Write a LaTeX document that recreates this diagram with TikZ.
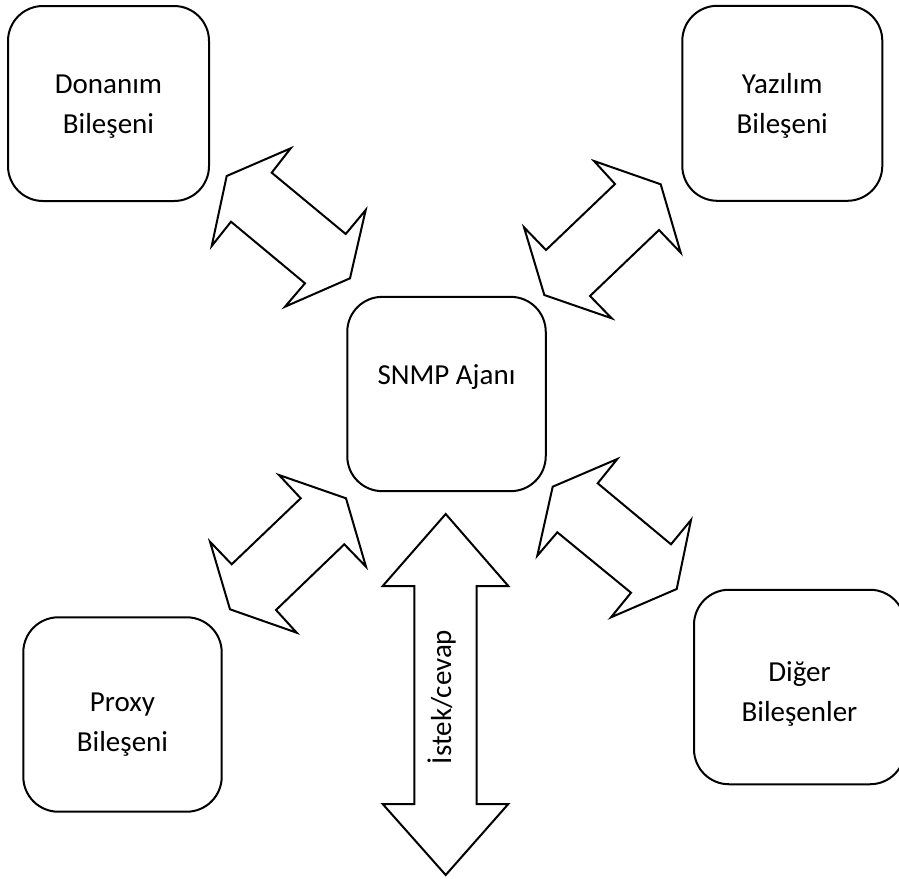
\documentclass[tikz,border=0pt]{standalone}
\usepackage{fontspec}
\setmainfont{Carlito}
\begin{document}
\begin{tikzpicture}[x=1pt,y=-1pt,
  comp/.style={draw, line width=2pt, rounded corners=35pt, inner sep=0pt},
  lbl/.style={anchor=base, inner sep=0pt, font=\fontsize{29}{40}\selectfont},
  blockarrow/.style={draw, line width=2pt, line join=miter, fill=white}]
  \useasboundingbox (0,0) rectangle (899,878);
  \clip (0,0) rectangle (899,878);

  % component boxes
  \node[comp, minimum width=201pt, minimum height=195pt] (don) at (108.5,103.5) {};
  \node[comp, minimum width=200pt, minimum height=195pt] (yaz) at (782.3,103.3) {};
  \node[comp, minimum width=198.5pt, minimum height=194.3pt] (snmp) at (446.5,394) {};
  \node[comp, minimum width=198.4pt, minimum height=194.4pt] (prx) at (122.5,714.5) {};
  \node[comp, minimum width=211pt, minimum height=194.5pt] (dig) at (799.5,687) {};

  % box texts
  \node[lbl] (don1) at (108.5,93.3) {Donanım};
  \node[lbl] (don2) at (108.5,133.3) {Bileşeni};
  \node[lbl] (yaz1) at (782.3,93.3) {Yazılım};
  \node[lbl] (yaz2) at (782.3,133.3) {Bileşeni};
  \node[lbl] (snmp1) at (446.5,384) {SNMP Ajanı};
  \node[lbl] (prx1) at (122.5,711.7) {Proxy};
  \node[lbl] (prx2) at (122.5,751.7) {Bileşeni};
  \node[lbl] (dig1) at (799.5,681.3) {Diğer};
  \node[lbl] (dig2) at (799.5,721.3) {Bileşenler};

  % double block arrow: Donanım <-> SNMP
  \draw[blockarrow] (226.7,176) -- (290.7,148.3) -- (271.7,172.7) -- (345.7,234)
    -- (365.7,210) -- (350,278.3) -- (285,306.7) -- (305,283.3) -- (231,221.7)
    -- (211.7,246) -- cycle;

  % double block arrow: Yazılım <-> SNMP
  \draw[blockarrow] (660.7,184.3) -- (594,161) -- (615,184) -- (546,250)
    -- (524,227.3) -- (544.3,295) -- (611.7,318.3) -- (590,296) -- (659,230)
    -- (680.7,252.7) -- cycle;

  % double block arrow: Proxy <-> SNMP
  \draw[blockarrow] (346,498.3) -- (279,475) -- (300.7,498.3) -- (231.7,564.3)
    -- (210,541.7) -- (230,609.3) -- (296.7,632.7) -- (276,610) -- (344.3,544.3)
    -- (366,566.7) -- cycle;

  % double block arrow: Diğer <-> SNMP
  \draw[blockarrow] (552.7,486.7) -- (617.3,459) -- (597.7,483.3) -- (671,544.3)
    -- (691,520) -- (676.7,589) -- (611,617.3) -- (631,592.7) -- (557.3,532.3)
    -- (537.3,555.7) -- cycle;

  % vertical request/response arrow
  \draw[blockarrow] (445.7,514) -- (508.3,586) -- (476.7,586) -- (476.7,804)
    -- (508.3,804) -- (445.7,875) -- (382.7,804) -- (414.3,804) -- (414.3,586)
    -- (382.7,586) -- cycle;
  \node[lbl, rotate=90] (istek) at (451,697) {İstek/cevap};
\end{tikzpicture}
\end{document}
